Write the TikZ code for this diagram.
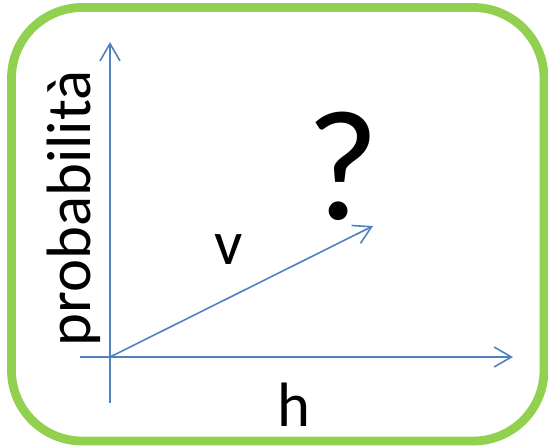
\documentclass[tikz,border=0pt]{standalone}
\usepackage{fontspec}
\setmainfont{Carlito}
\usetikzlibrary{arrows.meta}
\definecolor{frameGreen}{HTML}{92D050}
\definecolor{axisBlue}{HTML}{4F81BD}

\begin{document}
\begin{tikzpicture}[
  x=0.75pt, y=-0.75pt,
  frame/.style ={draw=frameGreen, line width=6.6pt, rounded corners=53pt},
  axis/.style  ={draw=axisBlue, line width=1.2pt, -{Straight Barb[length=13pt, width=15pt, line width=1.2pt]}},
  lbl/.style   ={inner sep=0pt, font=\fontsize{47}{50}\selectfont},
  bigq/.style  ={inner sep=0pt, font=\fontsize{118}{124}\selectfont},
]
\useasboundingbox (0,0) rectangle (548,447);

% ============ Frame ============
\draw[frame] (11.5,7.5) rectangle (544,441);

% ============ Axis points ============
\coordinate (o)      at (110,357);
\coordinate (ytop)   at (110,42);
\coordinate (ybot)   at (110,403);
\coordinate (xleft)  at (80,357);
\coordinate (xright) at (513,357);
\coordinate (vtip)   at (373,226);

% ============ Axes and vector ============
\draw[axis]  (ybot) -- (ytop);
\draw[axis]  (xleft) -- (xright);
\draw[axis]  (o) -- (vtip);

% ============ Labels ============
\node[lbl, rotate=90] (prob) at (73.5,208.5) {probabilità};
\node[lbl] (vlabel) at (229,250) {v};
\node[lbl] (hlabel) at (293.5,405) {h};
\node[bigq] (quest) at (342.5,166) {?};

\end{tikzpicture}
\end{document}
